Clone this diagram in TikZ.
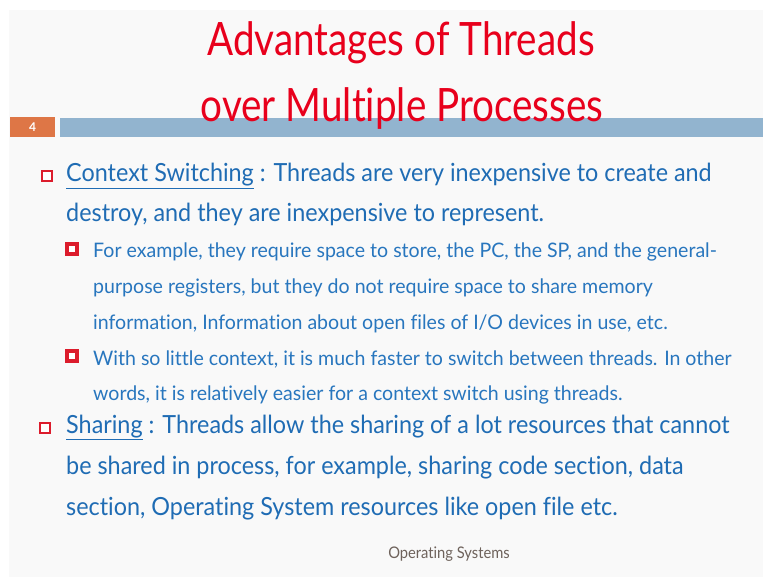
\documentclass[tikz,border=0pt]{standalone}
\usepackage{fontspec}
\setmainfont{Lato}[Ligatures=NoCommon]
\newfontfamily\titlefont{Lato}[FakeStretch=0.84, Ligatures=NoCommon]
\newfontfamily\bodyfont{Lato}[FakeStretch=0.935, Ligatures=NoCommon]
\newfontfamily\subfont{Lato}[FakeStretch=0.978, Ligatures=NoCommon]
\newfontfamily\footfont{Lato}[FakeStretch=0.92, Ligatures=NoCommon]
\definecolor{titlered}{RGB}{232,0,28}
\definecolor{bodyblue}{RGB}{31,108,180}
\definecolor{subblue}{RGB}{40,118,190}
\definecolor{bulletred}{RGB}{220,28,44}
\definecolor{barblue}{RGB}{146,180,207}
\definecolor{numorange}{RGB}{222,118,70}
\definecolor{footgray}{RGB}{110,98,91}
\definecolor{slidebg}{RGB}{249,249,249}
\tikzset{
  titletext/.style={anchor=base, inner sep=0pt, text=titlered, font=\titlefont\fontsize{46}{46}\selectfont},
  bodytext/.style={anchor=base west, inner sep=0pt, text=bodyblue, font=\bodyfont\fontsize{25}{25}\selectfont},
  subtext/.style={anchor=base west, inner sep=0pt, text=subblue, font=\subfont\fontsize{20}{20}\selectfont},
  hollowbullet/.style={draw=bulletred, line width=1.2pt, fill=white, minimum size=10pt, inner sep=0pt},
  solidbullet/.style={draw=bulletred, line width=3.8pt, fill=white, minimum size=10pt, inner sep=0pt},
}
\begin{document}
\begin{tikzpicture}[x=1pt, y=-1pt]
  \useasboundingbox (0,0) rectangle (763,577);
  \fill[white] (0,0) rectangle (763,577);
  \fill[slidebg] (9,10) rectangle (763,577);

  % header bar with slide number
  \fill[numorange] (10,117) rectangle (55,137);
  \node[text=white, font=\bfseries\fontsize{12}{12}\selectfont] (num) at (32.5,127) {4};
  \fill[barblue] (60,118) rectangle (763,137);

  % title
  \node[titletext] (t1) at (401,56) {Advantages of Threads};
  \node[titletext] (t2) at (402,122) {over Multiple Processes};

  % first main bullet
  \node[hollowbullet] (b1) at (47,176) {};
  \node[bodytext] (l1) at (66,182) {\underline{Context Switching} : Threads are very inexpensive to create and};
  \node[bodytext] (l2) at (66,222) {destroy, and they are inexpensive to represent.};

  % sub bullets
  \node[solidbullet] (s1) at (72,249) {};
  \node[subtext] (m1) at (93,258) {For example, they require space to store, the PC, the SP, and the general-};
  \node[subtext] (m2) at (93,294) {purpose registers, but they do not require space to share memory};
  \node[subtext] (m3) at (93,330) {information, Information about open files of I/O devices in use, etc.};
  \node[solidbullet] (s2) at (72,356) {};
  \node[subtext] (m4) at (93,365) {With so little context, it is much faster to switch between threads. In other};
  \node[subtext] (m5) at (93,400) {words, it is relatively easier for a context switch using threads.};

  % second main bullet
  \node[hollowbullet] (b2) at (45,428) {};
  \node[bodytext] (n1) at (66,433) {\underline{Sharing} : Threads allow the sharing of a lot resources that cannot};
  \node[bodytext] (n2) at (66,474) {be shared in process, for example, sharing code section, data};
  \node[bodytext] (n3) at (66,515) {section, Operating System resources like open file etc.};

  % footer
  \node[anchor=base, inner sep=0pt, text=footgray, font=\footfont\fontsize{16}{16}\selectfont] (foot) at (449,558) {Operating Systems};
\end{tikzpicture}
\end{document}
